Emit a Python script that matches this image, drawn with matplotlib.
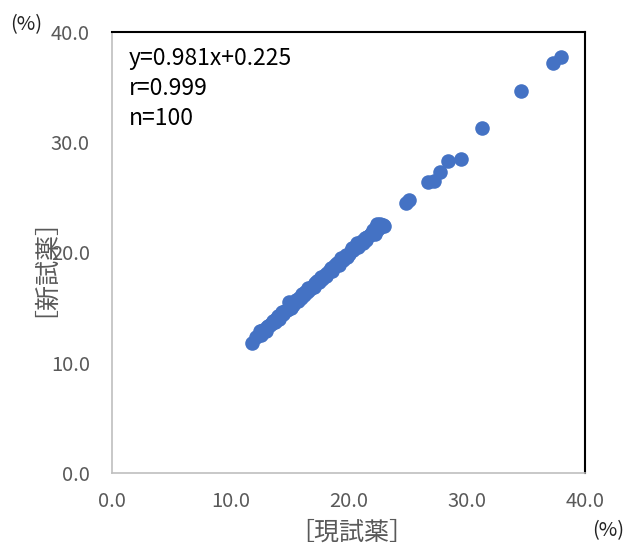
import matplotlib
matplotlib.use('Agg')
import matplotlib.pyplot as plt

plt.rcParams['font.family'] = ['Noto Sans CJK JP', 'DejaVu Sans']

# 現試薬 (x) / 新試薬 (y)
x_cur = [11.8, 12.2, 12.5, 12.6, 12.8, 13.0, 13.1, 13.2, 13.4, 13.5,
         13.6, 13.8, 13.9, 14.0, 14.1, 14.3, 14.4, 14.5, 14.6, 14.8,
         14.9, 15.0, 15.1, 15.2, 15.3, 15.5, 15.6, 15.7, 15.8, 16.0,
         16.1, 16.2, 16.3, 16.5, 16.6, 16.7, 16.8, 17.0, 17.1, 17.2,
         17.3, 17.5, 17.6, 17.7, 17.8, 18.0, 18.1, 18.2, 18.4, 18.5,
         18.6, 18.8, 18.9, 19.0, 19.2, 19.3, 19.4, 19.5, 19.7, 19.8,
         19.9, 20.0, 20.2, 20.3, 20.4, 20.6, 20.7, 20.8, 21.0, 21.1,
         21.2, 21.4, 21.5, 21.6, 21.8, 21.9, 22.0, 22.1, 22.2, 22.3,
         22.4, 22.5, 22.6, 22.7, 22.8, 22.9, 23.0, 22.4,
         24.9, 25.1, 26.7, 27.2, 27.7, 28.4, 29.5, 31.3, 34.6, 37.3, 38.0]
y_new = [11.8, 12.3, 12.9, 12.5, 13.0, 12.9, 13.2, 13.3, 13.4, 13.6,
         13.8, 13.7, 14.0, 14.2, 14.0, 14.3, 14.6, 14.4, 14.7, 14.8,
         14.9, 15.5, 15.0, 15.4, 15.2, 15.5, 15.7, 15.6, 15.9, 15.9,
         16.2, 16.1, 16.4, 16.4, 16.8, 16.6, 16.8, 17.0, 16.9, 17.2,
         17.4, 17.3, 17.6, 17.8, 17.6, 18.0, 17.9, 18.1, 18.4, 18.6,
         18.3, 18.7, 18.9, 19.0, 18.9, 19.2, 19.5, 19.3, 19.6, 19.8,
         19.6, 19.9, 20.1, 20.4, 20.2, 20.6, 20.9, 20.5, 20.8, 21.0,
         20.9, 21.3, 21.1, 21.4, 21.6, 21.7, 21.8, 22.0, 21.7, 22.3,
         22.0, 22.5, 22.2, 22.6, 22.4, 22.5, 22.4, 22.6,
         24.5, 24.8, 26.4, 26.5, 27.3, 28.3, 28.5, 31.3, 34.6, 37.2, 37.7]

ticks = [0, 10, 20, 30, 40]
tick_labels = ['0.0', '10.0', '20.0', '30.0', '40.0']
stats = ['y=0.981x+0.225', 'r=0.999', 'n=100']

fig = plt.figure(figsize=(6.24, 5.5), dpi=100)
ax = fig.add_axes([0.1795, 0.14, 0.758, 0.802])
ax.scatter(x_cur, y_new, s=110, color='#4472C4', zorder=3, linewidths=0)

ax.set_xlim(0, 40)
ax.set_ylim(0, 40)
ax.set_xticks(ticks)
ax.set_xticklabels(tick_labels)
ax.set_yticks(ticks)
ax.set_yticklabels(tick_labels)
ax.tick_params(length=0, labelsize=14.5, colors='#595959')
ax.tick_params(axis='y', pad=16)
ax.tick_params(axis='x', pad=13)

for s in ['left', 'bottom']:
    ax.spines[s].set_color('#BFBFBF')
    ax.spines[s].set_linewidth(1.2)
for s in ['top', 'right']:
    ax.spines[s].set_color('black')
    ax.spines[s].set_linewidth(1.5)

ax.text(0.035, 0.965, '\n'.join(stats), transform=ax.transAxes, va='top',
        ha='left', fontsize=16.5, color='black', linespacing=1.38)

fig.text(0.042, 0.955, '(%)', fontsize=14.5, ha='center', va='center', color='#222222')
fig.text(0.975, 0.035, '(%)', fontsize=14.5, ha='center', va='center', color='#222222')
fig.text(0.052, 0.538, '［新試薬］', fontsize=18, rotation=90, ha='center', va='center', color='#595959')
fig.text(0.563, 0.032, '［現試薬］', fontsize=18, ha='center', va='center', color='#595959')

fig.savefig('out.png', dpi=100)
